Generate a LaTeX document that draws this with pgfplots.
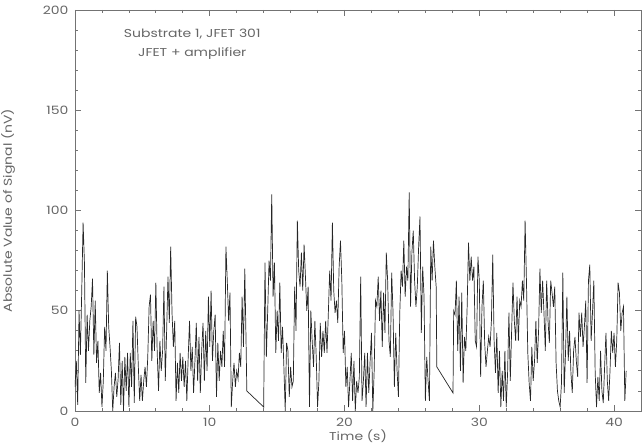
\documentclass[border=0pt]{standalone}
\usepackage{fontspec}
\setmainfont{Poppins}[FakeStretch=1.22]
\usepackage{pgfplots}
\pgfplotsset{compat=1.18}
\definecolor{txt}{gray}{0.40}
\definecolor{axc}{gray}{0.45}
\begin{document}
\begin{tikzpicture}
\begin{axis}[
  scale only axis, width=566bp, height=401bp,
  xmin=0, xmax=42, ymin=0, ymax=200,
  xtick={0,10,20,30,40}, minor x tick num=4,
  ytick={0,50,100,150,200}, minor y tick num=4,
  tick align=inside, major tick length=6bp, minor tick length=3bp,
  axis line style={axc, line width=0.8bp},
  tick style={axc, line width=0.8bp},
  /pgf/number format/assume math mode=true,
  ticklabel style={font=\fontsize{11.5}{13}\selectfont, text=txt},
  xticklabel style={yshift=-4bp},
  yticklabel style={xshift=-3bp},
  label style={font=\fontsize{11.5}{13}\selectfont, text=txt},
  xlabel={Time (s)},
  ylabel={Absolute Value of Signal (nV)},
  xlabel style={at={(rel axis cs:0.5,0)}, anchor=center, yshift=-25bp},
  ylabel style={at={(rel axis cs:0,0.5)}, anchor=center, yshift=67bp},
]
\addplot[black!85, line width=0.7bp, mark=none] coordinates {
(0.0,12)(0.1,25)(0.2,3)(0.3,50)(0.4,28)(0.5,60)(0.6,94)(0.7,74)(0.8,14)(0.9,48)
(1.0,30)(1.1,45)(1.2,52)(1.3,66)(1.4,28)(1.5,55)(1.6,24)(1.7,35)(1.8,9)(1.9,19)
(2.0,2)(2.1,15)(2.2,42)(2.3,30)(2.4,70)(2.5,42)(2.6,32)(2.7,20)(2.8,0)(2.9,12)
(3.0,19)(3.1,7)(3.2,16)(3.3,34)(3.4,3)(3.5,25)(3.6,0)(3.7,27)(3.8,10)(3.9,29)
(4.0,2)(4.1,29)(4.2,12)(4.3,45)(4.4,4)(4.5,47)(4.6,42)(4.7,22)(4.8,5)(4.9,18)
(5.0,5)(5.1,15)(5.2,22)(5.3,12)(5.4,27)(5.5,52)(5.6,58)(5.7,25)(5.8,45)(5.9,30)
(6.0,64)(6.1,29)(6.2,10)(6.3,35)(6.4,20)(6.5,30)(6.6,62)(6.7,15)(6.8,40)(6.9,67)
(7.0,44)(7.1,82)(7.2,49)(7.3,32)(7.4,45)(7.5,5)(7.6,24)(7.7,9)(7.8,29)(7.9,15)
(8.0,27)(8.1,12)(8.2,25)(8.3,5)(8.4,27)(8.5,45)(8.6,20)(8.7,32)(8.8,9)(8.9,25)
(9.0,44)(9.1,15)(9.2,37)(9.3,9)(9.4,30)(9.5,44)(9.6,15)(9.7,40)(9.8,20)(9.9,57)
(10.0,32)(10.1,60)(10.2,25)(10.3,40)(10.4,48)(10.5,7)(10.6,34)(10.7,15)(10.8,30)(10.9,22)
(11.0,40)(11.1,22)(11.2,82)(11.3,65)(11.4,45)(11.5,59)(11.6,2)(11.7,15)(11.8,24)(11.9,12)
(12.0,20)(12.1,16)(12.2,29)(12.3,22)(12.4,57)(12.5,32)(12.6,71)(12.7,32)(12.75,10)
(14.0,2)(14.1,74)(14.2,27)(14.3,50)(14.4,75)(14.5,65)(14.6,108)(14.7,57)(14.8,74)(14.9,29)
(15.0,50)(15.1,35)(15.2,64)(15.3,29)(15.4,42)(15.5,22)(15.6,0)(15.7,34)(15.8,30)(15.9,7)
(16.0,22)(16.1,12)(16.2,15)(16.3,62)(16.4,40)(16.5,95)(16.6,70)(16.7,62)(16.8,79)(16.9,60)
(17.0,83)(17.1,67)(17.2,50)(17.3,62)(17.4,2)(17.5,50)(17.6,35)(17.7,22)(17.8,45)(17.9,27)
(18.0,2)(18.1,15)(18.2,44)(18.3,27)(18.4,40)(18.5,29)(18.6,45)(18.7,29)(18.8,49)(18.9,70)
(19.0,55)(19.1,94)(19.2,60)(19.3,49)(19.4,55)(19.5,44)(19.6,72)(19.7,85)(19.8,65)(19.9,29)
(20.0,40)(20.1,12)(20.2,22)(20.3,2)(20.4,15)(20.5,29)(20.6,5)(20.7,25)(20.8,0)(20.9,15)
(21.0,9)(21.1,17)(21.2,67)(21.3,5)(21.4,15)(21.5,29)(21.6,2)(21.7,29)(21.8,9)(21.9,25)
(22.0,39)(22.1,0)(22.2,20)(22.3,55)(22.4,52)(22.5,67)(22.6,45)(22.7,60)(22.8,32)(22.9,59)
(23.0,39)(23.1,79)(23.2,65)(23.3,35)(23.4,27)(23.5,69)(23.6,49)(23.7,12)(23.8,39)(23.9,20)
(24.0,7)(24.1,49)(24.2,70)(24.3,62)(24.4,85)(24.5,57)(24.6,72)(24.7,65)(24.8,109)(24.9,52)
(25.0,79)(25.1,90)(25.2,65)(25.3,52)(25.4,62)(25.5,82)(25.6,97)(25.7,39)(25.8,72)(25.9,57)
(26.0,5)(26.1,27)(26.2,15)(26.3,5)(26.4,82)(26.5,65)(26.6,85)(26.7,72)(26.8,62)(26.85,22)
(28.05,9)(28.1,50)(28.2,48)(28.3,65)(28.4,30)(28.5,57)(28.6,20)(28.7,59)(28.8,14)(28.9,37)
(29.0,30)(29.1,52)(29.2,84)(29.3,65)(29.4,77)(29.5,65)(29.6,72)(29.7,35)(29.8,32)(29.9,77)
(30.0,65)(30.1,17)(30.2,52)(30.3,65)(30.4,34)(30.5,22)(30.6,30)(30.7,37)(30.8,32)(30.9,45)
(31.0,78)(31.1,35)(31.2,19)(31.3,39)(31.4,9)(31.5,30)(31.6,2)(31.7,20)(31.8,5)(31.9,30)
(32.0,2)(32.1,19)(32.2,49)(32.3,15)(32.4,40)(32.5,64)(32.6,45)(32.7,35)(32.8,57)(32.9,35)
(33.0,55)(33.1,52)(33.2,65)(33.3,55)(33.4,95)(33.5,65)(33.6,29)(33.7,14)(33.8,5)(33.9,32)
(34.0,15)(34.1,25)(34.2,45)(34.3,24)(34.4,40)(34.5,71)(34.6,49)(34.7,65)(34.8,49)(34.9,30)
(35.0,65)(35.1,45)(35.2,34)(35.3,65)(35.4,59)(35.5,52)(35.6,62)(35.7,24)(35.8,10)(35.9,5)
(36.0,2)(36.1,14)(36.2,69)(36.3,9)(36.4,29)(36.5,57)(36.6,25)(36.7,40)(36.8,19)(36.9,9)
(37.0,30)(37.1,37)(37.2,25)(37.3,17)(37.4,49)(37.5,37)(37.6,49)(37.7,32)(37.8,42)(37.9,55)
(38.0,14)(38.1,65)(38.2,73)(38.3,35)(38.4,49)(38.5,65)(38.6,19)(38.7,2)(38.8,17)(38.9,5)
(39.0,30)(39.1,10)(39.2,4)(39.3,22)(39.4,39)(39.5,15)(39.6,5)(39.7,20)(39.8,40)(39.9,29)
(40.0,39)(40.1,22)(40.2,35)(40.3,64)(40.4,59)(40.5,40)(40.6,49)(40.7,52)(40.8,5)(40.9,20)
};
\node[font=\fontsize{11.5}{13}\selectfont, text=txt] at (axis cs:8.7,188) {Substrate 1, JFET 301};
\node[font=\fontsize{11.5}{13}\selectfont, text=txt] at (axis cs:8.7,178) {JFET + amplifier};
\end{axis}
\pgfresetboundingbox
\path[use as bounding box] ([xshift=-75bp,yshift=-32bp]current axis.south west) rectangle ([xshift=3bp,yshift=10bp]current axis.north east);
\end{tikzpicture}
\end{document}
